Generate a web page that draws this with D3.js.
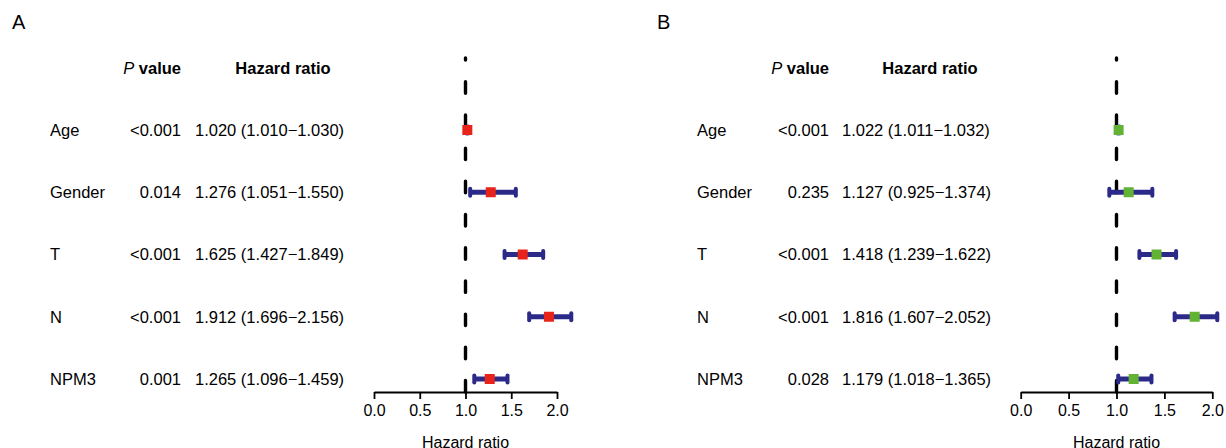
<!DOCTYPE html>
<html lang="en">
  <head>
    <meta charset="UTF-8" />
    <title>Forest plots: univariate and multivariate Cox regression</title>
    <style>
      body { margin: 0; background: #fff; }
      svg { display: block; font-family: 'Liberation Sans', Arial, sans-serif; }
      .axis path, .axis line { stroke: #000; stroke-width: 1.8; }
    </style>
  </head>
  <body>
    <svg width="1226" height="448"></svg>
    <script src="https://d3js.org/d3.v7.min.js"></script>
    <script>
      // data
      const variables = ['Age', 'Gender', 'T', 'N', 'NPM3'];
      const ticks = [0, 0.5, 1, 1.5, 2];

      const pA = ['<0.001', '0.014', '<0.001', '<0.001', '0.001'];
      const hrA = [1.02, 1.276, 1.625, 1.912, 1.265];
      const lowA = [1.01, 1.051, 1.427, 1.696, 1.096];
      const highA = [1.03, 1.55, 1.849, 2.156, 1.459];

      const pB = ['<0.001', '0.235', '<0.001', '<0.001', '0.028'];
      const hrB = [1.022, 1.127, 1.418, 1.816, 1.179];
      const lowB = [1.011, 0.925, 1.239, 1.607, 1.018];
      const highB = [1.032, 1.374, 1.622, 2.052, 1.365];

      const svg = d3.select('svg');
      const fmt = d3.format('.3f');

      const y = d3.scalePoint().domain(variables).range([130, 379]);
      const axisY = 392;

      const panels = [
        {
          letter: 'A', letterX: 12, labelX: 50, pRight: 181, hrX: 195, hrHead: 283,
          range: [374, 557], color: '#e8231b', p: pA, hr: hrA, low: lowA, high: highA
        },
        {
          letter: 'B', letterX: 657, labelX: 697, pRight: 829, hrX: 842, hrHead: 930,
          range: [1020.7, 1212.3], color: '#62b234', p: pB, hr: hrB, low: lowB, high: highB
        }
      ];

      panels.forEach((cfg) => {
        const g = svg.append('g');
        const x = d3.scaleLinear().domain([0, 2]).range(cfg.range);
        const rows = variables.map((v, i) => ({
          name: v, p: cfg.p[i], hr: cfg.hr[i], low: cfg.low[i], high: cfg.high[i]
        }));

        g.append('text')
          .attr('x', cfg.letterX)
          .attr('y', 29)
          .attr('font-size', 20)
          .text(cfg.letter);

        // column headers
        const ph = g.append('text')
          .attr('x', cfg.pRight)
          .attr('y', 68)
          .attr('dy', '0.35em')
          .attr('text-anchor', 'end')
          .attr('font-size', 16.5)
          .attr('font-weight', 'bold');
        ph.append('tspan').attr('font-style', 'italic').attr('font-weight', 'normal').text('P');
        ph.append('tspan').text(' value');

        g.append('text')
          .attr('x', cfg.hrHead)
          .attr('y', 68)
          .attr('dy', '0.35em')
          .attr('text-anchor', 'middle')
          .attr('font-size', 16.5)
          .attr('font-weight', 'bold')
          .text('Hazard ratio');

        // table text
        const tr = g.selectAll('g.row').data(rows).join('g')
          .attr('class', 'row')
          .attr('font-size', 16.5);

        tr.append('text')
          .attr('x', cfg.labelX)
          .attr('y', (d) => y(d.name))
          .attr('dy', '0.35em')
          .text((d) => d.name);

        tr.append('text')
          .attr('x', cfg.pRight)
          .attr('y', (d) => y(d.name))
          .attr('dy', '0.35em')
          .attr('text-anchor', 'end')
          .text((d) => d.p);

        tr.append('text')
          .attr('x', cfg.hrX)
          .attr('y', (d) => y(d.name))
          .attr('dy', '0.35em')
          .text((d) => `${fmt(d.hr)} (${fmt(d.low)}\u2212${fmt(d.high)})`);

        // reference line at HR = 1, drawn bottom-up so dashes start at the axis
        g.append('path')
          .attr('d', d3.line()([[x(1), axisY], [x(1), 58]]))
          .attr('stroke', '#000')
          .attr('stroke-width', 3.4)
          .attr('stroke-linecap', 'round')
          .attr('stroke-dasharray', '11.5 21.7');

        // confidence intervals
        g.selectAll('line.ci').data(rows).join('line')
          .attr('class', 'ci')
          .attr('x1', (d) => x(d.low))
          .attr('x2', (d) => x(d.high))
          .attr('y1', (d) => y(d.name))
          .attr('y2', (d) => y(d.name))
          .attr('stroke', '#2c2a88')
          .attr('stroke-width', 5);

        ['low', 'high'].forEach((k) => {
          g.selectAll('line.cap-' + k).data(rows).join('line')
            .attr('class', 'cap-' + k)
            .attr('x1', (d) => x(d[k]))
            .attr('x2', (d) => x(d[k]))
            .attr('y1', (d) => y(d.name) - 3.5)
            .attr('y2', (d) => y(d.name) + 3.5)
            .attr('stroke', '#2c2a88')
            .attr('stroke-width', 4)
            .attr('stroke-linecap', 'round');
        });

        // point estimates
        g.selectAll('rect.pt').data(rows).join('rect')
          .attr('class', 'pt')
          .attr('x', (d) => x(d.hr) - 5)
          .attr('y', (d) => y(d.name) - 5)
          .attr('width', 10)
          .attr('height', 10)
          .attr('fill', cfg.color);

        // x axis
        g.append('g')
          .attr('class', 'axis')
          .attr('transform', `translate(0,${axisY})`)
          .call(d3.axisBottom(x)
            .tickValues(ticks)
            .tickFormat(d3.format('.1f'))
            .tickSize(7)
            .tickSizeOuter(0)
            .tickPadding(6))
          .attr('font-size', 16)
          .attr('font-family', null);

        g.append('text')
          .attr('x', x(1))
          .attr('y', 442)
          .attr('dy', '0.35em')
          .attr('text-anchor', 'middle')
          .attr('font-size', 16)
          .text('Hazard ratio');
      });
    </script>
  </body>
</html>
